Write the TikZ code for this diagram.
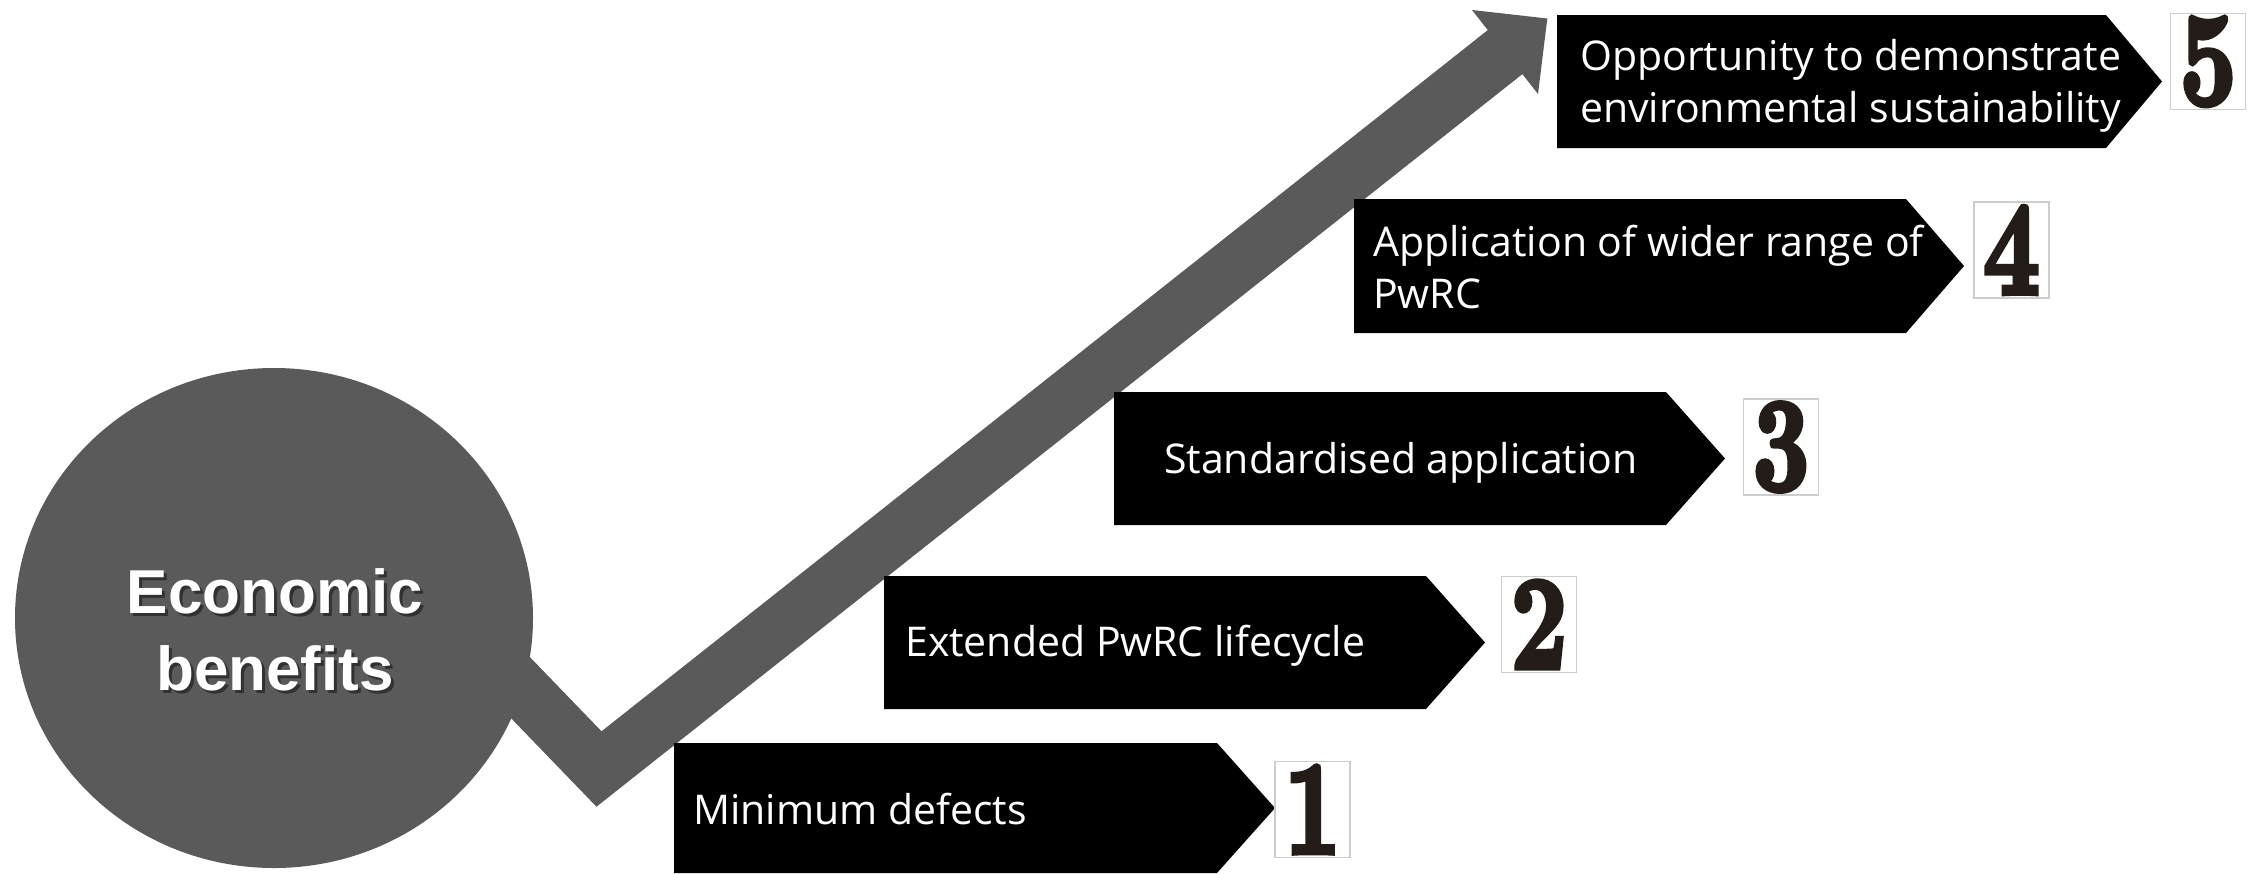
\documentclass[tikz,border=0pt]{standalone}
\usepackage{fontspec}
\usepackage{graphicx}
\usetikzlibrary{shapes.geometric}
\newfontfamily\boxfont{Open Sans}
\newfontfamily\headfont{Liberation Sans}
\newfontfamily\numfont{lmroman10-bold.otf}[FakeBold=4]
\definecolor{arrowgray}{RGB}{90,90,90}
\definecolor{digitink}{RGB}{35,28,24}
\definecolor{framegray}{RGB}{205,205,205}
% black pentagon step: left x, top y, total width, height, point depth
\newcommand\chevronbox[5]{%
  \fill[black] (#1,#2) -- ({#1+#3-#5},#2) -- ({#1+#3},{#2+#4/2})
    -- ({#1+#3-#5},{#2+#4}) -- (#1,{#2+#4}) -- cycle;}
\newcommand\numeral[1]{\scalebox{0.74}[1]{#1}}
\begin{document}
\begin{tikzpicture}[x=1pt,y=-1pt,
  boxtext/.style={anchor=base west, inner sep=0pt, text=white,
    font=\boxfont\fontsize{41}{52}\selectfont, align=left},
  numbox/.style={draw=framegray, line width=1.2pt, fill=white, inner sep=0pt,
    minimum width=75pt, minimum height=96pt, text=digitink,
    font=\numfont\fontsize{133}{133}\selectfont},
  headtext/.style={anchor=base, inner sep=0pt, align=center,
    font=\headfont\bfseries\fontsize{62}{77}\selectfont},
]
\useasboundingbox (0,0) rectangle (2257,873);
\fill[white] (0,0) rectangle (2257,873);

% rising arrow
\coordinate (arrowstart) at (460,625);
\coordinate (vbend) at (599,769);
\coordinate (headbase) at (1509,49);
\draw[arrowgray, line width=56pt, line join=miter, miter limit=10]
  (arrowstart) -- (vbend) -- (headbase);
\fill[arrowgray] (1547.3,18.5) -- (1472,10) -- (1538,94) -- cycle;

% central ellipse with title (anchor = baseline of the last line)
\node[ellipse, fill=arrowgray, inner sep=0pt, minimum width=518pt,
  minimum height=500pt] (econ) at (274,618) {};
\node[headtext, text=black, opacity=0.45] (econshadow) at (278,693.5)
  {Economic\\benefits};
\node[headtext, text=white] (econtext) at (275,690) {Economic\\benefits};

% steps
\chevronbox{674}{743}{601}{130}{58}
\chevronbox{884}{576}{601}{133}{59}
\chevronbox{1114}{392}{611}{133}{59}
\chevronbox{1354}{199}{610}{134}{58}
\chevronbox{1557}{15}{605}{133}{56}

\node[boxtext] (t1) at (693,824) {Minimum defects};
\node[boxtext] (t2) at (905,656) {Extended PwRC lifecycle};
\node[boxtext] (t3) at (1164,473) {Standardised application};
\node[boxtext] (t4) at (1373,308) {Application of wider range of\\PwRC};
\node[boxtext] (t5) at (1580,122) {Opportunity to demonstrate\\environmental sustainability};

% step numbers
\node[numbox] (n1) at (1312.5,809.5) {\numeral{1}};
\node[numbox] (n2) at (1539,624.5) {\numeral{2}};
\node[numbox] (n3) at (1781,447) {\numeral{3}};
\node[numbox] (n4) at (2011.5,250) {\numeral{4}};
\node[numbox] (n5) at (2208,61.5) {\numeral{5}};
\end{tikzpicture}
\end{document}
